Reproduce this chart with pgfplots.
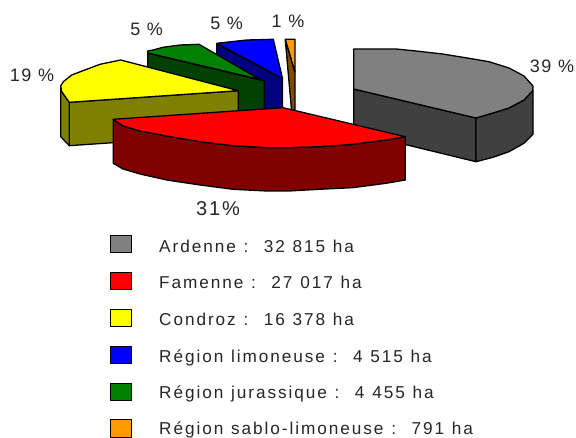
\documentclass[border=0pt]{standalone}
\usepackage{pgfplots}
\pgfplotsset{compat=1.18}
\usepackage{fontspec}
\setmainfont[LetterSpace=11.3,WordSpace=1.15]{Liberation Sans}
\newfontfamily\tightf[LetterSpace=9]{Liberation Sans}
\definecolor{cgray}{RGB}{128,128,128}
\definecolor{dgray}{RGB}{64,64,64}
\definecolor{cred}{RGB}{255,0,0}
\definecolor{dred}{RGB}{128,0,0}
\definecolor{cyel}{RGB}{255,255,0}
\definecolor{dyel}{RGB}{128,128,0}
\definecolor{cblu}{RGB}{0,0,255}
\definecolor{dblu}{RGB}{0,0,128}
\definecolor{cgrn}{RGB}{0,128,0}
\definecolor{dgrn}{RGB}{0,64,0}
\definecolor{corg}{RGB}{255,153,0}
\definecolor{dorg}{RGB}{128,77,0}
\newcommand{\lab}[3]{\node[anchor=center,inner sep=0pt,font=\fontsize{18}{21}\selectfont\tightf,text=black!85] at (axis cs:#1,#2) {#3};}
\newcommand{\leg}[2]{\node[anchor=base west,inner sep=0pt,font=\fontsize{17.2}{20}\selectfont,text=black!85] at (axis cs:159,#1) {#2};}
\begin{document}
\begin{tikzpicture}
\useasboundingbox (0,0) rectangle (576pt,438pt);
\begin{axis}[at={(0,0)},anchor=south west,scale only axis,width=576pt,height=438pt,
  xmin=0,xmax=576,ymin=0,ymax=438,y dir=reverse,hide axis,clip=false,
  every axis plot/.append style={draw=black,line width=1.3pt,line join=round,mark=none}]
% Ardenne
\addplot[fill=dgray] coordinates {(353.7,89)(476,118)(476,161.7)(353.7,132)} -- cycle;
\addplot[fill=dgray] coordinates {(476,118)(493,113)(509,108)(524,100)(533,90)(533,134.3)(524,143.3)(509,151.7)(493,157.3)(476,161.7)} -- cycle;
\addplot[fill=cgray] coordinates {(353.7,49)(396,49)(416,51)(442.7,54)(469,58.3)(489,61.7)(509,68)(524,76)(533,86)(532.7,90.7)(524,100)(509,108)(493,113)(476,118)(353.7,89)} -- cycle;
% Region sablo-limoneuse
\addplot[fill=dorg] coordinates {(285.3,40)(295,72)(295,110)(291.5,110)} -- cycle;
\addplot[fill=corg] coordinates {(285.3,39.3)(295,39.3)(295,72)} -- cycle;
% Region limoneuse
\addplot[fill=dblu] coordinates {(216.7,44)(282.5,78.5)(282.5,122)(216.7,90)} -- cycle;
\addplot[fill=cblu] coordinates {(216.7,43.3)(246.7,40)(273.3,39.3)(282.5,78.5)} -- cycle;
% Region jurassique
\addplot[fill=dgrn] coordinates {(147.7,53)(264.3,81)(264.3,125)(147.7,95)} -- cycle;
\addplot[fill=cgrn] coordinates {(147.7,51)(153,50)(163,47.3)(180,45)(199,44.3)(260,79.5)(147.7,53)} -- cycle;
% Condroz
\addplot[fill=dyel] coordinates {(69.3,102.3)(238.3,90.7)(238.3,134)(69.3,145.7)} -- cycle;
\addplot[fill=dyel] coordinates {(60.7,86)(61.7,91.7)(69.3,102.3)(69.3,145.7)(60.7,136.7)} -- cycle;
\addplot[fill=cyel] coordinates {(60.7,86)(63.3,81.7)(71.7,75)(86.7,69.3)(100,64.3)(120.7,60)(238.3,90.7)(69.3,102.3)(61.7,91.7)} -- cycle;
% Famenne
\addplot[fill=dred] coordinates {(113.3,119.3)(123,126)(140,131)(166.7,136)(200,141.7)(233,145.7)(266.7,147.7)(289,147.7)(319,146.7)(352.7,144.3)(386,140)(405.3,136.7)(405.3,180)(386,183.3)(352.7,187.7)(319,189.3)(289,191)(266.7,191)(233,189.3)(200,185)(166.7,180)(140,174)(123,169)(113.3,163.3)} -- cycle;
\addplot[fill=cred] coordinates {(113.3,119.3)(283,107.7)(405.3,136.7)(386,140)(352.7,144.3)(319,146.7)(289,147.7)(266.7,147.7)(233,145.7)(200,141.7)(166.7,136)(140,131)(123,126)} -- cycle;
% Legend swatches
\addplot[fill=cgray,line width=1pt] coordinates {(110.5,236)(131,236)(131,253)(110.5,253)} -- cycle;
\addplot[fill=cred,line width=1pt] coordinates {(110.5,272.5)(131,272.5)(131,289.5)(110.5,289.5)} -- cycle;
\addplot[fill=cyel,line width=1pt] coordinates {(110.5,309.5)(131,309.5)(131,326.5)(110.5,326.5)} -- cycle;
\addplot[fill=cblu,line width=1pt] coordinates {(110.5,346.5)(131,346.5)(131,363.5)(110.5,363.5)} -- cycle;
\addplot[fill=cgrn,line width=1pt] coordinates {(110.5,383.5)(131,383.5)(131,400.5)(110.5,400.5)} -- cycle;
\addplot[fill=corg,line width=1pt] coordinates {(110.5,420)(131,420)(131,437)(110.5,437)} -- cycle;
\lab{552}{66}{39 \%}
\lab{32}{75}{19 \%}
\lab{146.7}{29.3}{5 \%}
\lab{226.7}{23}{5 \%}
\lab{288}{21}{1 \%}
\node[anchor=center,inner sep=0pt,font=\fontsize{20}{23}\selectfont\tightf,text=black!85] at (axis cs:218,209) {31\%};
\leg{252.3}{Ardenne :\ \ 32 815 ha}
\leg{289}{Famenne :\ \ 27 017 ha}
\leg{325.7}{Condroz :\ \ 16 378 ha}
\leg{362.3}{Région limoneuse :\ \ 4 515 ha}
\leg{398.7}{Région jurassique :\ \ 4 455 ha}
\leg{435}{Région sablo-limoneuse :\ \ 791 ha}
\end{axis}
\end{tikzpicture}
\end{document}
